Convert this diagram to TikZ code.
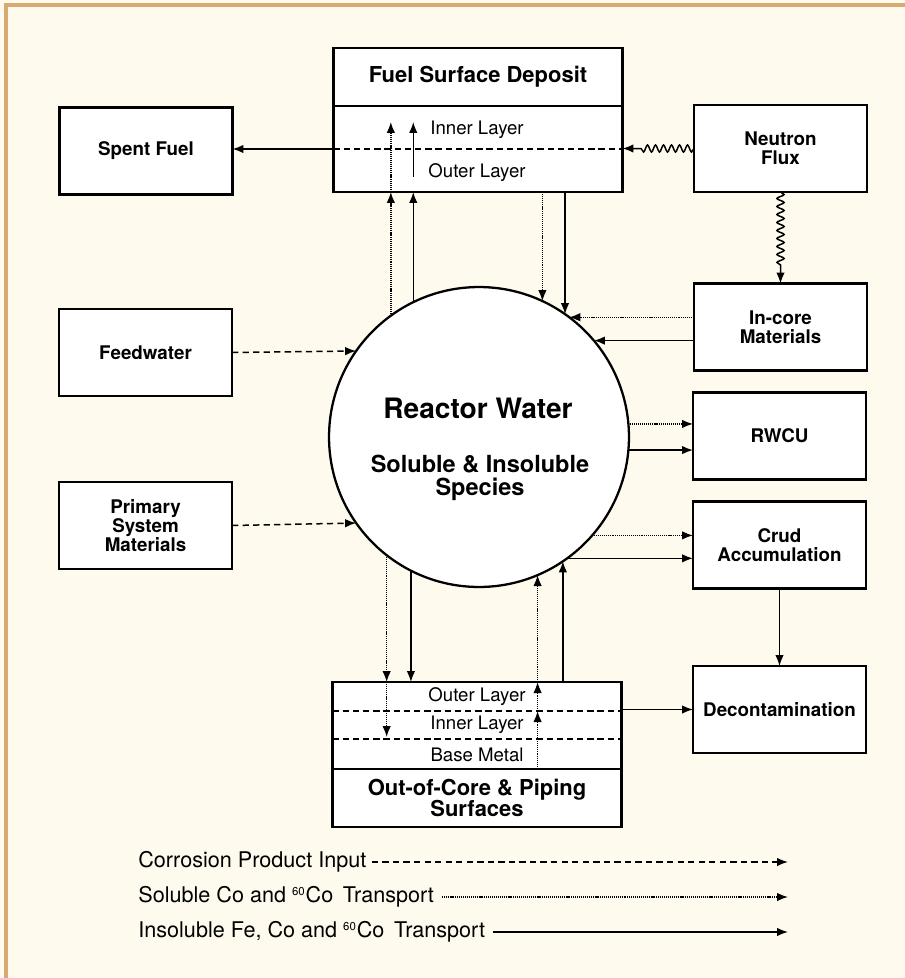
\documentclass[tikz,border=0pt]{standalone}
\usepackage{fontspec}
\setmainfont{TeX Gyre Heros}
\usetikzlibrary{arrows.meta}
\usetikzlibrary{decorations.pathmorphing}

\definecolor{paper}{RGB}{254,250,237}
\definecolor{framecol}{RGB}{214,170,112}

\begin{document}
\begin{tikzpicture}[x=0.02cm,y=-0.02cm,
    box/.style={draw,fill=white,line width=1.3pt,minimum width=3.46cm,minimum height=1.74cm,inner sep=0pt,outer sep=0pt,align=center,font=\fontsize{10.7}{10.8}\selectfont\bfseries},
    wide/.style={draw,fill=white,line width=1.3pt,minimum width=5.78cm,inner sep=0pt,outer sep=0pt,align=center},
    lab/.style={font=\fontsize{10.6}{12}\selectfont},
    legtext/.style={font=\fontsize{12.3}{14}\selectfont,inner sep=0pt,anchor=west},
    tip/.style={-{Latex[length=2.2mm,width=1.7mm]}},
    insol/.style={tip,line width=0.85pt},
    sol/.style={tip,line width=0.8pt,dash pattern=on 0.6pt off 0.5pt},
    cpi/.style={tip,line width=0.85pt,dash pattern=on 3.6pt off 2.4pt},
    layerline/.style={line width=1.1pt,dash pattern=on 3.6pt off 2.2pt},
    flux/.style={tip,line width=0.85pt,decorate,decoration={snake,amplitude=0.7mm,segment length=1.6mm,post length=3.5mm}}]

    % paper and frame
    \useasboundingbox (0,0) rectangle (905,978);
    \fill[paper] (0,0) rectangle (905,978);
    \draw[framecol,line width=1.8pt] (6,978) -- (6,5) -- (905,5);

    % reactor water
    \node[circle,draw,fill=white,line width=1.3pt,minimum size=6cm,inner sep=0pt,outer sep=0pt] (rw) at (479,437) {};
    \node[font=\fontsize{16}{18}\selectfont\bfseries] (rwname) at (478,408) {Reactor Water};
    \node[font=\fontsize{13.4}{13}\selectfont\bfseries,align=center] (rwspec) at (480,478) {Soluble \& Insoluble\\Species};

    % fuel surface deposit
    \node[wide,minimum height=1.16cm,font=\fontsize{12.5}{13}\selectfont\bfseries] (fst) at (478,77) {Fuel Surface Deposit};
    \node[wide,minimum height=1.72cm] (fsl) at (478,149) {};
    \node[lab] (fsin) at (477,130) {Inner Layer};
    \node[lab] (fsout) at (477,173) {Outer Layer};
    \draw[layerline] (fsl.west) -- (fsl.east);

    % out-of-core and piping surfaces
    \node[wide,minimum height=1.74cm] (ocl) at (477,725.5) {};
    \node[wide,minimum height=1.16cm,font=\fontsize{12.5}{12}\selectfont\bfseries] (oct) at (477,798) {Out-of-Core \& Piping\\Surfaces};
    \node[lab] (ocout) at (477,697) {Outer Layer};
    \node[lab] (ocin) at (477,725) {Inner Layer};
    \node[lab] (ocbase) at (477,755) {Base Metal};
    \foreach \ly in {711,739}
        \draw[layerline] (ocl.west |- 0,\ly) -- (ocl.east |- 0,\ly);

    % side boxes
    \node[box] (spent) at (146,151) {Spent Fuel};
    \node[box] (feed) at (145.5,352.5) {Feedwater};
    \node[box] (prim) at (145.5,525.5) {Primary\\System\\Materials};
    \node[box] (nflux) at (780.5,148.5) {Neutron\\Flux};
    \node[box] (incore) at (780.5,327) {In-core\\Materials};
    \node[box] (rwcu) at (779.5,436) {RWCU};
    \node[box] (crud) at (779.5,545) {Crud\\Accumulation};
    \node[box] (decon) at (779.5,709.5) {Decontamination};

    % fuel deposit exchange
    \draw[sol] (rw.126.4) -- (rw.126.4 |- fsl.south);
    \draw[sol] (rw.126.4 |- fsl.south) -- ++(0,-70);
    \draw[insol] (rw.116.1) -- (rw.116.1 |- fsl.south);
    \draw[insol] (rw.116.1 |- fsl.south) ++(0,-15) -- ++(0,-55);
    \draw[sol] (rw.65.6 |- fsl.south) -- (rw.65.6);
    \draw[insol] (rw.55.9 |- fsl.south) -- (rw.55.9);
    \draw[insol] (fsl.west) -- (fsl.west -| spent.east);

    % neutron flux
    \draw[flux] (nflux.west) -- (nflux.west -| fsl.east);
    \draw[flux] (nflux.south) -- (incore.north);

    % in-core materials
    \draw[sol] (incore.west |- rw.53.8) -- (rw.53.8);
    \draw[insol] (incore.west |- rw.40.8) -- (rw.40.8);

    % corrosion product inputs
    \draw[cpi] (feed.east) -- (rw.145.5);
    \draw[cpi] (prim.east) -- (rw.215.5);

    % removal
    \draw[sol] (rw.5) -- (rw.5 -| rwcu.west);
    \draw[insol] (rw.355.8) -- (rw.355.8 -| rwcu.west);
    \draw[sol] (rw.319.7) -- (rw.319.7 -| crud.west);
    \draw[insol] (rw.306.9) -- (rw.306.9 -| crud.west);
    \draw[insol] (crud.south) -- (decon.north);
    \draw[insol] (decon.west -| ocl.east) -- (decon.west);

    % out-of-core exchange
    \draw[sol] (rw.232.7) -- (rw.232.7 |- ocl.north);
    \draw[sol] (rw.232.7 |- ocl.north) -- ++(0,55);
    \draw[insol] (rw.243.9) -- (rw.243.9 |- ocl.north);
    \draw[sol] (rw.293.6 |- oct.north) -- ++(0,-58);
    \draw[sol] (rw.293.6 |- oct.north) ++(0,-58) -- (rw.293.6 |- ocl.north);
    \draw[sol] (rw.293.6 |- ocl.north) -- (rw.293.6);
    \draw[insol] (rw.304.1 |- ocl.north) -- (rw.304.1);

    % legend
    \coordinate (lgend) at (788,862);
    \node[legtext] (lgcpi) at (138,862) {Corrosion Product Input};
    \node[legtext] (lgsol) at (138,897) {Soluble Co and \textsuperscript{\fontsize{6.5}{7}\selectfont 60}Co\, Transport};
    \node[legtext] (lgins) at (138,932) {Insoluble Fe, Co and \textsuperscript{\fontsize{6.5}{7}\selectfont 60}Co\, Transport};
    \draw[cpi] ([xshift=1mm]lgcpi.east) -- (lgcpi.east -| lgend);
    \draw[sol] ([xshift=1.5mm]lgsol.east) -- (lgsol.east -| lgend);
    \draw[insol] ([xshift=1.5mm]lgins.east) -- (lgins.east -| lgend);

\end{tikzpicture}
\end{document}
